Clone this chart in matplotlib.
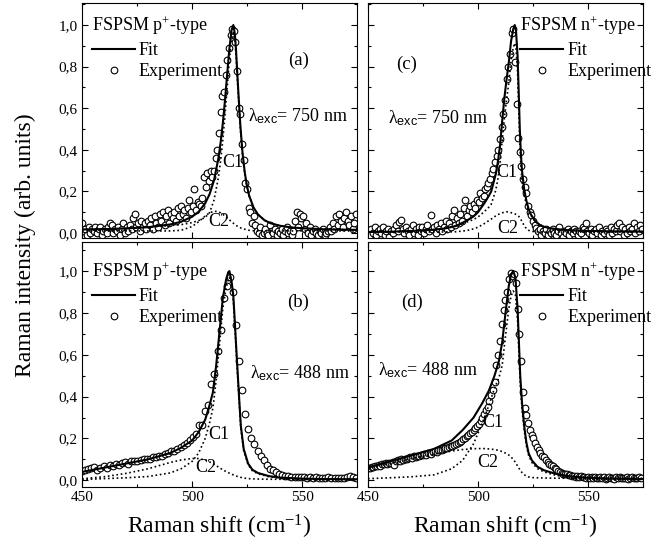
import numpy as np
import matplotlib
matplotlib.use('Agg')
import matplotlib.pyplot as plt
import matplotlib.transforms as mtransforms
from matplotlib.ticker import MultipleLocator, FuncFormatter

plt.rcParams['font.family'] = ['Liberation Serif', 'DejaVu Serif']
plt.rcParams['mathtext.fontset'] = 'custom'
plt.rcParams['mathtext.rm'] = 'Liberation Serif'
plt.rcParams['mathtext.sf'] = 'Liberation Sans'
plt.rcParams['mathtext.it'] = 'Liberation Serif:italic'

# ---------------- (a) p+ type, 750 nm ----------------
exp_x_a = np.arange(450, 575, 0.75)
exp_y_a = [0.05, 0.01, 0.02, -0.01, 0.03, 0.00, 0.02, 0.01,
           0.03, 0.00, 0.02, 0.03, -0.01, 0.01, 0.02, 0.00,
           0.03, 0.05, 0.04, 0.00, 0.02, 0.01, 0.03, -0.01,
           0.02, 0.05, 0.00, 0.03, 0.01, 0.04, 0.02, 0.07,
           0.09, 0.03, 0.05, 0.01, 0.06, 0.03, 0.05, 0.02,
           0.06, 0.04, 0.07, 0.02, 0.08, 0.05, 0.03, 0.09,
           0.06, 0.10, 0.04, 0.08, 0.11, 0.05, 0.09, 0.07,
           0.10, 0.06, 0.12, 0.08, 0.13, 0.09, 0.11, 0.07,
           0.12, 0.16, 0.10, 0.13, 0.21, 0.11, 0.15, 0.14,
           0.13, 0.17, 0.27, 0.22, 0.29, 0.25, 0.30, 0.27,
           0.30, 0.36, 0.40, 0.48, 0.58, 0.66, 0.68, 0.76,
           0.83, 0.89, 0.95, 0.98, 0.97, 0.92, 0.78, 0.60,
           0.57, 0.43, 0.35, 0.24, 0.21, 0.12, 0.10, 0.05,
           0.08, 0.04, 0.01, 0.00, 0.03, -0.01, 0.00, 0.02,
           0.00, -0.01, 0.04, 0.01, 0.00, 0.02, -0.01, 0.01,
           0.00, 0.02, -0.01, 0.01, 0.03, 0.00, 0.01, -0.01,
           0.01, 0.06, 0.10, 0.03, 0.09, 0.07, 0.08, 0.02,
           0.05, 0.00, 0.03, -0.01, 0.01, 0.02, 0.00, -0.01,
           0.01, 0.00, 0.02, -0.01, 0.00, 0.01, 0.03, 0.01,
           0.05, 0.02, 0.08, 0.04, 0.09, 0.06, 0.03, 0.07,
           0.10, 0.06, 0.04, 0.08, 0.02, 0.05, 0.09]
fit_x_a = [450, 460, 470, 480, 490, 495, 500, 503, 506, 508, 510, 512, 513, 514, 515, 516, 517, 518,
           518.8, 519.5, 520, 521, 522, 523, 524, 525, 526, 528, 530, 533, 536, 540, 545, 550, 560, 575]
fit_a = [0.017, 0.019, 0.022, 0.028, 0.041, 0.054, 0.078, 0.102, 0.143, 0.187, 0.253, 0.359, 0.434, 0.527,
         0.639, 0.765, 0.888, 0.977, 1.0, 0.956, 0.882, 0.690, 0.514, 0.382, 0.290, 0.225, 0.179, 0.122,
         0.089, 0.061, 0.046, 0.035, 0.027, 0.023, 0.018, 0.015]
c1_a = [0.017, 0.019, 0.022, 0.028, 0.036, 0.040, 0.050, 0.060, 0.075, 0.098, 0.158, 0.267, 0.347, 0.447,
        0.567, 0.703, 0.835, 0.933, 0.963, 0.925, 0.855, 0.670, 0.499, 0.371, 0.282, 0.220, 0.176, 0.121,
        0.089, 0.061, 0.046, 0.035, 0.027, 0.023, 0.018, 0.015]
c2_a = [0.010, 0.010, 0.010, 0.010, 0.010, 0.013, 0.031, 0.054, 0.082, 0.097, 0.105, 0.102, 0.097, 0.090,
        0.082, 0.072, 0.063, 0.054, 0.047, 0.041, 0.037, 0.030, 0.025, 0.021, 0.018, 0.015, 0.013, 0.011,
        0.010, 0.010, 0.010, 0.010, 0.010, 0.010, 0.010, 0.010]

# ---------------- (b) p+ type, 488 nm ----------------
exp_x_b = np.arange(450, 575, 1.4)
exp_y_b = [0.045, 0.048, 0.055, 0.058, 0.062, 0.050, 0.060, 0.066, 0.058, 0.072,
           0.070, 0.078, 0.074, 0.082, 0.086, 0.080, 0.092, 0.094, 0.090, 0.098,
           0.100, 0.104, 0.102, 0.110, 0.112, 0.118, 0.116, 0.126, 0.130, 0.138,
           0.142, 0.150, 0.158, 0.168, 0.178, 0.192, 0.205, 0.222, 0.262, 0.265,
           0.330, 0.360, 0.460, 0.510, 0.620, 0.720, 0.870, 0.930, 0.970, 0.900,
           0.740, 0.570, 0.430, 0.315, 0.243, 0.204, 0.175, 0.139, 0.115, 0.096,
           0.072, 0.056, 0.048, 0.040, 0.030, 0.025, 0.022, 0.020, 0.018, 0.016,
           0.018, 0.014, 0.016, 0.013, 0.015, 0.012, 0.016, 0.011, 0.013, 0.010,
           0.014, 0.011, 0.012, 0.010, 0.013, 0.011, 0.018, 0.020, 0.016, 0.012]
fit_x_b = [450, 460, 470, 480, 490, 495, 500, 503, 506, 508, 509.5, 511, 512.5, 514, 515.5, 516.5, 517,
           518, 518.8, 519.5, 520.5, 521.5, 522.2, 523.5, 525.5, 527.5, 530, 535, 540, 550, 560, 575]
fit_b = [0.040, 0.060, 0.080, 0.100, 0.130, 0.155, 0.190, 0.230, 0.290, 0.360, 0.420, 0.550, 0.710, 0.870,
         0.960, 0.995, 1.000, 0.950, 0.880, 0.750, 0.560, 0.380, 0.260, 0.150, 0.080, 0.050, 0.035, 0.020,
         0.013, 0.008, 0.006, 0.005]
c1_b = [0.004, 0.008, 0.012, 0.018, 0.035, 0.055, 0.090, 0.130, 0.200, 0.275, 0.345, 0.480, 0.650, 0.820,
        0.920, 0.960, 0.970, 0.925, 0.855, 0.730, 0.545, 0.367, 0.248, 0.141, 0.074, 0.045, 0.031, 0.017,
        0.010, 0.005, 0.003, 0.002]
c2_b = [0.007, 0.017, 0.033, 0.055, 0.085, 0.097, 0.104, 0.104, 0.097, 0.088, 0.080, 0.070, 0.060, 0.050,
        0.042, 0.037, 0.034, 0.029, 0.026, 0.023, 0.019, 0.016, 0.014, 0.011, 0.008, 0.007, 0.006, 0.005,
        0.005, 0.005, 0.005, 0.005]

# ---------------- (c) n+ type, 750 nm ----------------
exp_x_c = np.arange(450, 575, 0.75)
exp_y_c = [0.01, -0.01, 0.02, 0.00, 0.03, -0.01, 0.01, 0.02,
           0.00, 0.03, -0.01, 0.01, 0.02, -0.02, 0.01, 0.00,
           0.02, 0.04, 0.01, 0.055, 0.063, 0.02, 0.00, 0.03,
           0.01, -0.01, 0.02, 0.04, 0.00, 0.02, -0.01, 0.03,
           0.01, 0.03, 0.00, 0.02, 0.04, 0.01, 0.087, 0.02,
           0.03, 0.00, 0.04, 0.02, 0.05, 0.01, 0.03, 0.06,
           0.02, 0.05, 0.03, 0.08, 0.11, 0.04, 0.07, 0.05,
           0.09, 0.06, 0.12, 0.16, 0.08, 0.11, 0.13, 0.10,
           0.14, 0.12, 0.16, 0.15, 0.19, 0.17, 0.18, 0.21,
           0.22, 0.24, 0.26, 0.29, 0.31, 0.34, 0.37, 0.40,
           0.45, 0.51, 0.57, 0.64, 0.74, 0.80, 0.86, 0.96,
           0.98, 0.82, 0.62, 0.455, 0.39, 0.32, 0.26, 0.22,
           0.19, 0.13, 0.10, 0.085, 0.06, 0.04, 0.025, 0.01,
           0.02, -0.01, 0.01, 0.00, 0.02, -0.01, 0.01, 0.00,
           0.02, 0.00, -0.01, 0.01, 0.03, 0.00, -0.02, 0.01,
           0.00, 0.02, -0.01, 0.01, 0.00, 0.02, 0.01, -0.01,
           0.01, 0.00, 0.03, 0.02, 0.047, 0.01, 0.00, 0.02,
           -0.01, 0.01, 0.02, 0.00, 0.03, -0.01, 0.01, 0.00,
           0.02, 0.01, -0.01, 0.03, 0.00, 0.02, 0.01, 0.04,
           0.047, 0.01, 0.03, -0.01, 0.02, 0.00, 0.03, 0.01,
           0.02, 0.047, 0.00, 0.03, 0.01, 0.04, 0.02]
fit_x_c = [450, 460, 470, 480, 485, 490, 495, 498, 500, 503, 505, 506, 508, 509, 510, 511, 512, 513, 514,
           515, 516, 516.7, 517.3, 518, 518.5, 519, 519.5, 520, 521, 522, 523, 524, 526, 528, 530, 533,
           540, 550, 560, 575]
fit_c = [0.005, 0.006, 0.010, 0.016, 0.022, 0.034, 0.060, 0.080, 0.100, 0.145, 0.180, 0.200, 0.280, 0.340,
         0.420, 0.540, 0.650, 0.740, 0.820, 0.920, 0.980, 1.000, 0.970, 0.850, 0.680, 0.500, 0.380, 0.300,
         0.210, 0.155, 0.115, 0.090, 0.057, 0.040, 0.030, 0.022, 0.014, 0.010, 0.008, 0.007]
c1_c = [0.005, 0.006, 0.010, 0.016, 0.022, 0.033, 0.053, 0.065, 0.077, 0.104, 0.125, 0.138, 0.203, 0.257,
        0.332, 0.448, 0.555, 0.643, 0.723, 0.827, 0.891, 0.913, 0.886, 0.771, 0.605, 0.432, 0.320, 0.250,
        0.179, 0.139, 0.107, 0.086, 0.056, 0.040, 0.030, 0.022, 0.014, 0.010, 0.008, 0.007]
c2_c = [0.005, 0.005, 0.005, 0.005, 0.005, 0.006, 0.012, 0.020, 0.028, 0.046, 0.060, 0.067, 0.082, 0.088,
        0.093, 0.097, 0.100, 0.102, 0.102, 0.098, 0.094, 0.092, 0.089, 0.084, 0.080, 0.073, 0.065, 0.055,
        0.036, 0.021, 0.013, 0.009, 0.006, 0.005, 0.005, 0.005, 0.005, 0.005, 0.005, 0.005]

# ---------------- (d) n+ type, 488 nm ----------------
exp_x_d = np.arange(450, 574.5, 0.8)
exp_y_d = [0.060, 0.058, 0.064, 0.062, 0.068, 0.066, 0.074, 0.070, 0.078, 0.076,
           0.082, 0.079, 0.085, 0.083, 0.088, 0.072, 0.092, 0.096, 0.094, 0.100,
           0.098, 0.104, 0.102, 0.108, 0.110, 0.106, 0.114, 0.112, 0.118, 0.115,
           0.121, 0.119, 0.125, 0.122, 0.129, 0.131, 0.128, 0.135, 0.138, 0.136,
           0.143, 0.146, 0.144, 0.151, 0.155, 0.153, 0.160, 0.163, 0.162, 0.168,
           0.172, 0.178, 0.184, 0.190, 0.196, 0.204, 0.210, 0.217, 0.225, 0.233,
           0.242, 0.250, 0.260, 0.270, 0.283, 0.298, 0.317, 0.335, 0.352, 0.380,
           0.410, 0.430, 0.470, 0.550, 0.600, 0.665, 0.745, 0.815, 0.860, 0.900,
           0.960, 0.990, 0.975, 0.985, 0.945, 0.820, 0.700, 0.570, 0.420, 0.345,
           0.310, 0.275, 0.240, 0.215, 0.200, 0.180, 0.160, 0.145, 0.132, 0.118,
           0.110, 0.095, 0.088, 0.080, 0.072, 0.066, 0.058, 0.052, 0.046, 0.040,
           0.036, 0.032, 0.028, 0.030, 0.024, 0.026, 0.020, 0.022, 0.018, 0.020,
           0.016, 0.019, 0.014, 0.017, 0.013, 0.018, 0.012, 0.015, 0.010, 0.016,
           0.012, 0.009, 0.014, 0.011, 0.015, 0.008, 0.012, 0.016, 0.010, 0.013,
           0.008, 0.014, 0.011, 0.016, 0.009, 0.013, 0.010, 0.015, 0.008, 0.012,
           0.016, 0.010, 0.013, 0.009, 0.014, 0.011]
fit_x_d = [450, 460, 470, 480, 488, 493, 498, 502, 505, 507.5, 509.5, 511, 512.5, 514, 515, 516, 517, 518,
           518.6, 519.2, 520, 521, 522, 523, 524.5, 527, 530, 535, 540, 545, 550, 560, 575]
fit_d = [0.060, 0.090, 0.120, 0.150, 0.190, 0.240, 0.300, 0.370, 0.430, 0.500, 0.570, 0.660, 0.800, 0.930,
         0.980, 1.000, 0.970, 0.820, 0.660, 0.500, 0.370, 0.260, 0.180, 0.130, 0.095, 0.065, 0.048, 0.032,
         0.022, 0.016, 0.012, 0.008, 0.006]
c1_d = [0.008, 0.012, 0.017, 0.026, 0.055, 0.095, 0.175, 0.275, 0.360, 0.440, 0.490, 0.550, 0.690, 0.820,
        0.880, 0.905, 0.890, 0.760, 0.610, 0.460, 0.340, 0.240, 0.165, 0.120, 0.085, 0.056, 0.040, 0.025,
        0.015, 0.010, 0.007, 0.005, 0.004]
c2_d = [0.060, 0.080, 0.105, 0.125, 0.140, 0.147, 0.151, 0.152, 0.150, 0.147, 0.143, 0.137, 0.130, 0.121,
        0.112, 0.100, 0.086, 0.068, 0.058, 0.048, 0.037, 0.027, 0.020, 0.016, 0.013, 0.012, 0.011, 0.010,
        0.010, 0.010, 0.010, 0.010, 0.010]

fig = plt.figure(figsize=(6.68, 5.45), dpi=100)
ax_a = fig.add_axes([82 / 668, 307 / 545, 275 / 668, 235 / 545])
ax_c = fig.add_axes([368 / 668, 307 / 545, 275 / 668, 235 / 545])
ax_b = fig.add_axes([82 / 668, 58 / 545, 275 / 668, 245 / 545])
ax_d = fig.add_axes([368 / 668, 58 / 545, 275 / 668, 245 / 545])

comma = FuncFormatter(lambda v, p: ('%.1f' % v).replace('.', ','))
dots = (0, (1, 1.6))


def draw(ax, ex, ey, fx, fit, c1, c2, title, tag, tag_xy, lam, lam_xy, c1_xy, c2_xy, leg_x, ylim):
    l_exp, = ax.plot(ex, ey, 'o', ms=4.8, mfc='white', mec='black', mew=0.8, zorder=2,
                     label='Experiment')
    ax.plot(fx, c1, color='black', lw=1.2, ls=dots, zorder=3)
    ax.plot(fx, c2, color='black', lw=1.2, ls=dots, zorder=3)
    l_fit, = ax.plot(fx, fit, color='black', lw=1.5, zorder=4, label='Fit')
    ax.set_xlim(450, 575)
    ax.set_ylim(*ylim)
    ax.xaxis.set_major_locator(MultipleLocator(50))
    ax.xaxis.set_minor_locator(MultipleLocator(25))
    ax.yaxis.set_major_locator(MultipleLocator(0.2))
    ax.yaxis.set_minor_locator(MultipleLocator(0.1))
    ax.yaxis.set_major_formatter(comma)
    ax.tick_params(which='both', direction='in', top=True, right=True, width=0.8, labelsize=11)
    ax.tick_params(which='major', length=4.5, pad=3)
    ax.tick_params(which='minor', length=2.5)
    for s in ax.spines.values():
        s.set_linewidth(0.8)
    tr = mtransforms.blended_transform_factory(ax.transAxes, ax.transData)
    ax.legend(handles=[l_fit, l_exp], title=title, loc='upper left', bbox_to_anchor=(leg_x, 1.05),
              bbox_transform=tr, frameon=False, fontsize=13, title_fontsize=13, handlelength=2.4,
              handletextpad=0.2, labelspacing=0.25, borderpad=0, borderaxespad=0, alignment='left')
    ax.text(tag_xy[0], tag_xy[1], tag, fontsize=13.5, ha='center', va='center')
    ax.text(lam_xy[0], lam_xy[1], r'λ$_{\mathsf{exc}}$= ' + lam, fontsize=13, ha='left', va='center')
    ax.text(c1_xy[0], c1_xy[1], 'C1', fontsize=13, ha='center', va='center')
    ax.text(c2_xy[0], c2_xy[1], 'C2', fontsize=13, ha='center', va='center')


top_lim = (-0.024, 1.106)
bot_lim = (-0.032, 1.139)
draw(ax_a, exp_x_a, exp_y_a, fit_x_a, fit_a, c1_a, c2_a, r'FSPSM p$^{+}$-type', '(a)', (548.6, 0.83),
     '750 nm', (525.5, 0.56), (518.6, 0.34), (512.3, 0.053), 0.036, top_lim)
draw(ax_b, exp_x_b, exp_y_b, fit_x_b, fit_b, c1_b, c2_b, r'FSPSM p$^{+}$-type', '(b)', (548.2, 0.85),
     '488 nm', (526.4, 0.51), (512.3, 0.22), (506.3, 0.06), 0.036, bot_lim)
draw(ax_c, exp_x_c, exp_y_c, fit_x_c, fit_c, c1_c, c2_c, r'FSPSM n$^{+}$-type', '(c)', (467.6, 0.81),
     '750 nm', (459.0, 0.55), (513.1, 0.29), (513.5, 0.024), 0.553, top_lim)
draw(ax_d, exp_x_d, exp_y_d, fit_x_d, fit_d, c1_d, c2_d, r'FSPSM n$^{+}$-type', '(d)', (469.9, 0.85),
     '488 nm', (454.5, 0.526), (506.6, 0.277), (504.3, 0.086), 0.553, bot_lim)

for ax in (ax_a, ax_c):
    ax.tick_params(labelbottom=False)
for ax in (ax_c, ax_d):
    ax.tick_params(labelleft=False)
for ax in (ax_b, ax_d):
    ax.set_xlabel(r'Raman shift (cm$^{-1}$)', fontsize=17, labelpad=6)

fig.text(0.038, 0.55, 'Raman intensity (arb. units)', rotation=90, fontsize=17, ha='center', va='center')

fig.savefig('out.png', dpi=100)
